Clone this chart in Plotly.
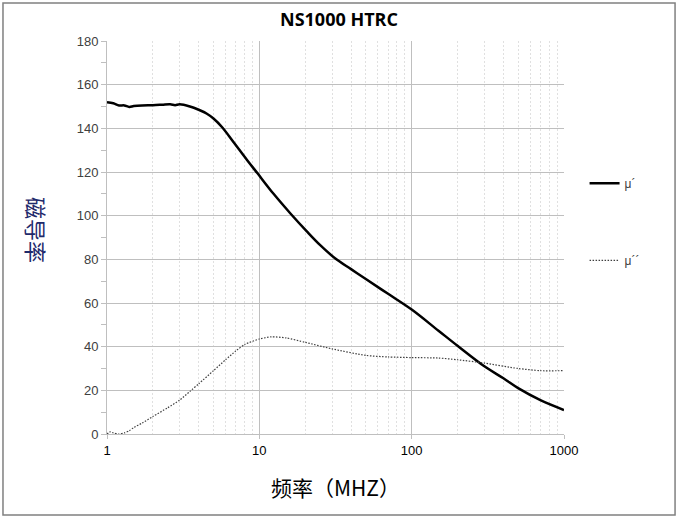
import plotly.graph_objects as go

# frequency (MHz) and permeability readings
freq_real = [1, 1.1, 1.2, 1.3, 1.4, 1.5, 1.7, 2, 2.3, 2.6, 2.8, 3, 3.5, 4, 4.5, 5, 5.7, 6.8, 8.3,
             9.7, 12.4, 16, 20.5, 25, 31.4, 40, 50, 70, 100, 150, 200, 300, 400, 500, 700, 1000]
mu_real = [152, 151.5, 150.5, 150.5, 149.8, 150.2, 150.5, 150.6, 150.8, 151, 150.6, 151, 150, 148.5, 146.8, 144.5, 140.5, 133.5, 125.5,
           119.5, 110, 101, 92.8, 86.6, 80.5, 75.5, 71, 64.2, 57, 47.3, 40.4, 31, 25.5, 21, 15.5, 11]

freq_imag = [1, 1.05, 1.1, 1.2, 1.3, 1.4, 1.5, 1.7, 2, 2.5, 3, 3.5, 4, 5, 6, 7, 8, 10,
             12, 15, 20, 30, 50, 70, 100, 150, 200, 300, 500, 700, 1000]
mu_imag = [0, 1, 0.5, 0, 0.5, 1.5, 3, 5, 8, 12, 15.5, 19.5, 23, 29, 34, 38, 41, 43.5,
           44.5, 44, 42, 39, 36, 35.3, 35, 34.8, 34, 32.5, 30, 29, 29]

x_ticks = [1, 10, 100, 1000]
minor_x = [m * d for d in (1, 10, 100) for m in range(2, 10)]

fig = go.Figure()
fig.add_trace(go.Scatter(x=freq_real, y=mu_real, mode='lines', name='μ´',
                         line=dict(color='black', width=2.5, shape='spline', smoothing=1.0),
                         legendgroup='a'))
fig.add_trace(go.Scatter(x=freq_imag, y=mu_imag, mode='lines', name='μ´´',
                         line=dict(color='#404040', width=1.2, dash='1.5px,1.5px', shape='spline', smoothing=0.6),
                         legendgroup='b'))

fig.update_layout(
    width=678, height=520,
    margin=dict(l=107, r=114, t=41, b=86),
    paper_bgcolor='white', plot_bgcolor='white',
    font=dict(family='Liberation Sans, Arial, sans-serif', color='#404040', size=13),
    title=dict(text='<b>NS1000 HTRC</b>', x=0.5, xanchor='center', y=0.962, yanchor='middle',
               font=dict(size=18, color='black', family='Open Sans, Liberation Sans, sans-serif')),
    showlegend=True,
    legend=dict(x=1.045, y=0.54, xanchor='left', yanchor='middle', tracegroupgap=58,
                font=dict(size=12, color='#404040'), bgcolor='rgba(0,0,0,0)'),
    xaxis=dict(type='log', range=[0, 3], tickvals=x_ticks, ticktext=[str(v) for v in x_ticks],
               showgrid=True, gridcolor='#bfbfbf', gridwidth=1,
               showline=True, linecolor='#bfbfbf', ticks='outside', ticklen=4, tickcolor='#bfbfbf',
               tickfont=dict(size=13, color='black'),
               minor=dict(tickvals=minor_x, showgrid=True, gridcolor='#e0e0e0', griddash='2px,2px',
                          gridwidth=1, ticks=''),
               zeroline=False),
    yaxis=dict(range=[0, 180], dtick=20, showgrid=True, gridcolor='#bfbfbf', gridwidth=1,
               showline=True, linecolor='#bfbfbf', ticks='outside', ticklen=5, tickcolor='#bfbfbf',
               tickfont=dict(size=13, color='#404040'),
               minor=dict(dtick=10, ticks='outside', ticklen=5, tickcolor='#bfbfbf', showgrid=False),
               zeroline=False),
    shapes=[dict(type='rect', xref='paper', yref='paper', x0=-0.2276, x1=1.243, y0=-0.206, y1=1.097,
                 line=dict(color='#808080', width=1.5), fillcolor='rgba(0,0,0,0)', layer='below')],
    annotations=[
        dict(text='磁导率', xref='paper', yref='paper', x=-0.152, y=0.52, showarrow=False,
             xanchor='center', yanchor='middle', textangle=90,
             font=dict(size=22, color='#1f2a6b', family='Noto Sans CJK SC')),
        dict(text='频率（MHZ）', xref='paper', yref='paper', x=0.5, y=-0.135, showarrow=False,
             xanchor='center', yanchor='middle',
             font=dict(size=21, color='black', family='Noto Sans CJK SC')),
    ],
)

fig.write_html("out.html", config={'displayModeBar': False},
               post_script="document.body.style.margin='0';")
